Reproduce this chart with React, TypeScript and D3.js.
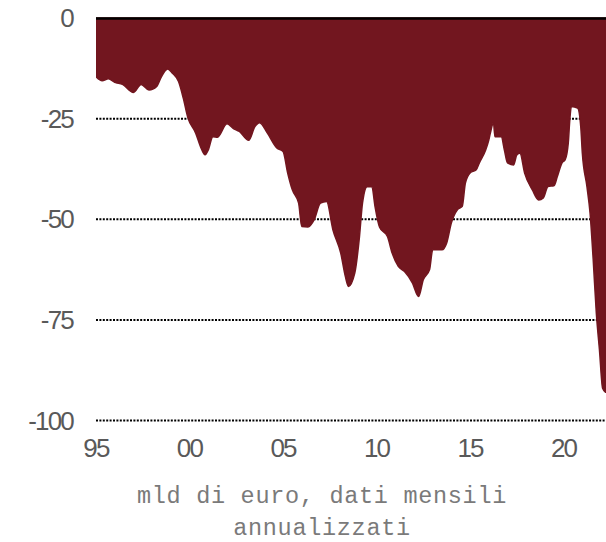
import React, { useEffect, useRef } from 'react';
import * as d3 from 'd3';

// ====

const months = [
    '1995-01', '1995-05', '1995-09', '1996-01', '1996-06', '1997-01', '1997-06', '1997-11',
    '1998-04', '1998-07', '1998-11', '1999-02', '1999-06', '1999-09', '1999-12', '2000-05',
    '2000-08', '2000-11', '2001-01', '2001-04', '2001-07', '2002-01', '2002-05', '2002-09',
    '2003-03', '2003-07', '2003-10', '2004-03', '2004-09', '2005-01', '2005-04', '2005-07',
    '2005-11', '2006-01', '2006-05', '2006-09', '2007-01', '2007-05', '2007-09', '2008-02',
    '2008-05', '2008-07', '2008-11', '2009-02', '2009-04', '2009-07', '2009-10', '2009-12',
    '2010-03', '2010-08', '2010-11', '2011-03', '2011-07', '2011-12', '2012-04', '2012-07',
    '2012-11', '2013-01', '2013-07', '2013-10', '2014-01', '2014-05', '2014-08', '2014-10',
    '2015-01', '2015-05', '2015-07', '2015-11', '2016-01', '2016-02', '2016-04', '2016-05',
    '2016-09', '2016-11', '2017-01', '2017-05', '2017-07', '2017-09', '2017-12', '2018-05',
    '2018-09', '2018-12', '2019-03', '2019-07', '2019-09', '2019-12', '2020-02', '2020-04',
    '2020-05', '2020-06', '2020-10', '2020-12', '2021-01', '2021-04', '2021-06', '2021-08',
    '2021-10', '2021-12', '2022-02', '2022-04'
];

const values = [
    -14.6, -15.6, -15.1, -16, -16.5, -18.5, -16.5, -17.9,
    -17, -14.6, -12.7, -13.7, -15.8, -19.9, -24.8, -28.6,
    -31.9, -34, -32.8, -29.5, -29.6, -26.3, -27.4, -28.2,
    -30.4, -27, -26, -28.6, -32.3, -33.2, -38.5, -42.7,
    -46, -51.8, -51.9, -50.1, -46, -45.6, -52.6, -58.4,
    -64.2, -66.7, -63.4, -54.3, -46, -41.9, -41.9, -46.8,
    -52, -54.3, -58.4, -61.7, -63, -65.8, -69.2, -65,
    -62.5, -57.6, -57.6, -55.9, -50.9, -47.6, -46.8, -41,
    -38.5, -37.7, -36, -32.8, -30.3, -28.6, -26.1, -29.5,
    -29.5, -32.8, -36, -36.5, -34, -33.6, -38.5, -42.7,
    -45.2, -44.7, -41.9, -41.6, -39.4, -36, -35.2, -31.1,
    -25.3, -22, -22.4, -27, -33.6, -41.9, -48.5, -60,
    -73.3, -82.4, -92, -93
];

const yTicks = [0, -25, -50, -75, -100];
const xTickYears = [1995, 2000, 2005, 2010, 2015, 2020];
const caption = ['mld di euro, dati mensili', 'annualizzati'];

// ====

const WIDTH = 606;
const HEIGHT = 542;
const LEFT = 96;
const TOP = 18;
const BOTTOM = 420.5;
const AREA_COLOR = '#72161f';
const LABEL_COLOR = '#595959';

function App() {
    const node = useRef<SVGSVGElement | null>(null);

    useEffect(() => {
        const svg = d3.select(node.current);
        svg.selectAll('*').remove();

        const parse = d3.timeParse('%Y-%m');
        const data = months.map((m, i) => ({ date: parse(m) as Date, value: values[i] }));

        const x = d3.scaleTime()
            .domain([new Date(1995, 0, 1), new Date(2022, 3, 8)])
            .range([LEFT, WIDTH]);
        const y = d3.scaleLinear().domain([0, -100]).range([TOP, BOTTOM]);

        svg.append('defs')
            .append('clipPath')
            .attr('id', 'plot-clip')
            .append('rect')
            .attr('x', LEFT)
            .attr('y', 0)
            .attr('width', WIDTH - LEFT)
            .attr('height', HEIGHT);

        // dotted grid lines behind the area
        svg.append('g')
            .selectAll('line')
            .data(yTicks.filter((t) => t !== 0))
            .enter()
            .append('line')
            .attr('x1', LEFT)
            .attr('x2', WIDTH)
            .attr('y1', (d) => y(d))
            .attr('y2', (d) => y(d))
            .attr('stroke', '#000')
            .attr('stroke-width', 2)
            .attr('stroke-dasharray', '2,1.4');

        const area = d3.area<{ date: Date; value: number }>()
            .x((d) => x(d.date))
            .y0(y(0))
            .y1((d) => y(d.value))
            .curve(d3.curveMonotoneX);

        svg.append('path')
            .datum(data)
            .attr('clip-path', 'url(#plot-clip)')
            .attr('d', area)
            .attr('fill', AREA_COLOR)
            .attr('stroke', AREA_COLOR)
            .attr('stroke-width', 1.5)
            .attr('stroke-linejoin', 'round');

        // zero line
        svg.append('line')
            .attr('x1', LEFT)
            .attr('x2', WIDTH)
            .attr('y1', y(0) + 0.5)
            .attr('y2', y(0) + 0.5)
            .attr('stroke', '#000')
            .attr('stroke-width', 2.5);

        const labelFont = '"Liberation Sans", Arial, sans-serif';

        svg.append('g')
            .selectAll('text')
            .data(yTicks)
            .enter()
            .append('text')
            .attr('x', 73)
            .attr('y', (d) => y(d))
            .attr('dy', '0.35em')
            .attr('text-anchor', 'end')
            .attr('font-family', labelFont)
            .attr('font-size', 26)
            .attr('letter-spacing', -1.8)
            .attr('fill', LABEL_COLOR)
            .text((d) => String(d));

        const yearFormat = d3.timeFormat('%y');
        svg.append('g')
            .selectAll('text')
            .data(xTickYears)
            .enter()
            .append('text')
            .attr('x', (d) => x(new Date(d, 0, 1)))
            .attr('y', 448)
            .attr('dy', '0.35em')
            .attr('text-anchor', 'middle')
            .attr('font-family', labelFont)
            .attr('font-size', 26)
            .attr('letter-spacing', -1.8)
            .attr('fill', LABEL_COLOR)
            .text((d) => yearFormat(new Date(d, 0, 1)));

        svg.append('g')
            .selectAll('text')
            .data(caption)
            .enter()
            .append('text')
            .attr('x', 322)
            .attr('y', (d, i) => 503 + i * 32)
            .attr('text-anchor', 'middle')
            .attr('font-family', '"Liberation Mono", "Courier New", monospace')
            .attr('font-size', 23.5)
            .attr('letter-spacing', 0.7)
            .attr('fill', '#7a7a7a')
            .text((d) => d);
    }, []);

    return (
        <svg
            ref={node}
            width={WIDTH}
            height={HEIGHT}
            style={{ position: 'absolute', left: 0, top: 0, background: '#fff' }}>
        </svg>
    );
}

// ====

export default App;
